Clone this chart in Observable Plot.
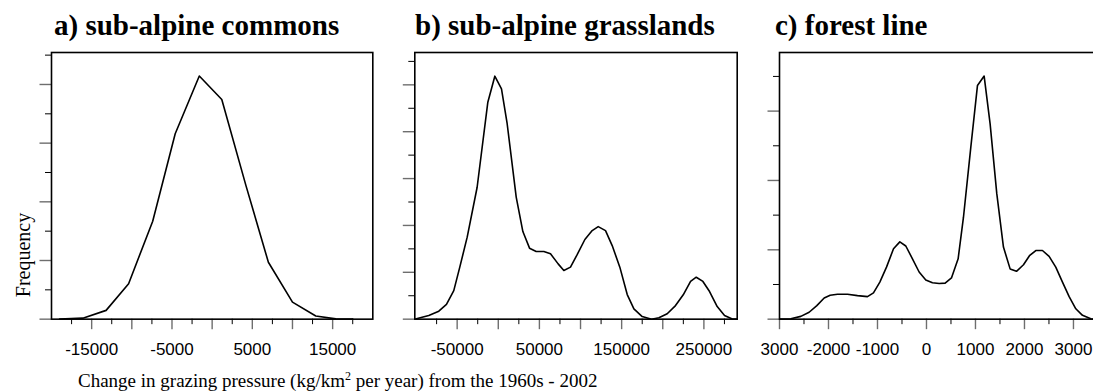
<!DOCTYPE html>
<html><head><meta charset="utf-8">
<script src="https://cdn.jsdelivr.net/npm/d3@7"></script>
<script src="https://cdn.jsdelivr.net/npm/@observablehq/plot@0.6"></script>
<style>
html,body{margin:0;padding:0;background:#fff;overflow:hidden}
#wrap{position:relative;width:1093px;height:392px;overflow:hidden;color:#000;background:#fff}
.panel{position:absolute;top:0}
.title{position:absolute;top:11px;font-family:"Liberation Serif","Times New Roman",serif;font-weight:bold;font-size:29px;line-height:29px;white-space:nowrap}
.xlab{position:absolute;left:78px;top:371px;font-family:"Liberation Serif","Times New Roman",serif;font-size:19px;line-height:19px;white-space:nowrap}
.xlab sup{font-size:12px;vertical-align:7px;line-height:0}
.ylab{position:absolute;left:23px;top:255px;font-family:"Liberation Serif","Times New Roman",serif;font-size:20px;line-height:20px;white-space:nowrap;transform:translate(-50%,-50%) rotate(-90deg)}
</style>
</head><body>
<div id="wrap"></div>
<script>
// ---- text ----
const panelTitles = ["a) sub-alpine commons", "b) sub-alpine grasslands", "c) forest line"];
const yTitle = "Frequency";
const xTitleHTML = "Change in grazing pressure (kg/km<sup>2</sup> per year) from the 1960s - 2002";

// ---- a) sub-alpine commons (density curve, arbitrary frequency units) ----
const commonsX = [-19000, -16100, -13200, -10400, -7400, -4600, -1600, 1200, 4200, 7000, 10000, 12900, 15400, 17500];
const commonsY = [0, 0.035, 0.30, 1.21, 3.34, 6.32, 8.29, 7.49, 4.56, 1.94, 0.58, 0.11, 0.01, 0];

// ---- b) sub-alpine grasslands ----
const grassX = [-100700, -84500, -72300, -63000, -54100, -46800, -37800, -25700, -12700, -4200, 3900, 10800, 21800, 29900, 38000, 46100, 55400, 63500, 72800, 79700, 87800, 95900, 105300, 114200, 121500, 130400, 138500, 147800, 156800, 164900, 175000, 186400, 195300, 205400, 215500, 224900, 233800, 240700, 248800, 256900, 266200, 275100, 284500, 290500];
const grassY = [0.01, 0.16, 0.34, 0.63, 1.22, 2.22, 3.50, 5.63, 9.26, 10.37, 9.83, 8.34, 5.21, 3.74, 3.03, 2.89, 2.89, 2.79, 2.36, 2.08, 2.22, 2.75, 3.40, 3.78, 3.95, 3.78, 3.14, 2.22, 1.05, 0.44, 0.11, 0, 0.06, 0.23, 0.58, 1.04, 1.61, 1.79, 1.61, 1.18, 0.54, 0.16, 0.01, 0];

// ---- c) forest line ----
const forestX = [-2993, -2769, -2565, -2395, -2238, -2088, -1966, -1816, -1612, -1408, -1204, -1082, -952, -816, -673, -544, -422, -286, -150, -14, 122, 259, 381, 510, 646, 755, 905, 1041, 1177, 1299, 1435, 1571, 1707, 1837, 1980, 2102, 2231, 2367, 2503, 2639, 2776, 2912, 3048, 3184, 3354, 3415];
const forestY = [0, 0.01, 0.08, 0.20, 0.39, 0.61, 0.69, 0.72, 0.72, 0.68, 0.65, 0.76, 1.07, 1.50, 2.03, 2.23, 2.11, 1.74, 1.36, 1.13, 1.05, 1.03, 1.04, 1.19, 1.74, 2.94, 4.96, 6.74, 7.01, 5.63, 3.62, 2.08, 1.45, 1.38, 1.57, 1.83, 1.98, 1.98, 1.81, 1.50, 1.07, 0.65, 0.30, 0.11, 0.01, 0];

// ---- ticks ----
const labelTicksA = [-15000, -5000, 5000, 15000];
const majorTicksA = [-15000, -10000, -5000, 0, 5000, 10000, 15000];
const minorTicksA = [-17500, -12500, -7500, -2500, 2500, 7500, 12500, 17500];
const labelTicksB = [-50000, 50000, 150000, 250000];
const majorTicksB = [-50000, 0, 50000, 100000, 150000, 200000, 250000];
const minorTicksB = [-75000, -25000, 25000, 75000, 125000, 175000, 225000, 275000];
const labelTicksC = [-3000, -2000, -1000, 0, 1000, 2000, 3000];
const labelTextC = ["3000", "-2000", "-1000", "0", "1000", "2000", "3000"];
const majorTicksC = [-3000, -2000, -1000, 0, 1000, 2000, 3000];
const minorTicksC = [-2500, -1500, -500, 500, 1500, 2500, 3500];
const yMajorA = [0, 2, 4, 6, 8], yMinorA = [1, 3, 5, 7, 9];
const yMajorB = [0, 2, 4, 6, 8, 10], yMinorB = [1, 3, 5, 7, 9, 11];
const yMajorC = [0, 2, 4, 6], yMinorC = [1, 3, 5, 7];

const panels = [
  {title: panelTitles[0], xs: commonsX, ys: commonsY, left: 0, width: 380, ml: 51, mr: 7.7, titleLeft: 54,
   xdom: [-20000, 20000], ydom: [0, 9.09], labels: labelTicksA, fmt: d => String(d), major: majorTicksA, minor: minorTicksA, yMaj: yMajorA, yMin: yMinorA},
  {title: panelTitles[1], xs: grassX, ys: grassY, left: 380, width: 370, ml: 34.3, mr: 13.3, titleLeft: 415,
   xdom: [-101500, 290500], ydom: [0, 11.38], labels: labelTicksB, fmt: d => String(d), major: majorTicksB, minor: minorTicksB, yMaj: yMajorB, yMin: yMinorB},
  {title: panelTitles[2], xs: forestX, ys: forestY, left: 750, width: 350, ml: 29, mr: 4.5, titleLeft: 775,
   xdom: [-3000, 3460], ydom: [0, 7.69], labels: labelTicksC, fmt: d => labelTextC[labelTicksC.indexOf(d)], major: majorTicksC, minor: minorTicksC, yMaj: yMajorC, yMin: yMinorC}
];

const wrap = document.getElementById("wrap");
const H = 392, MT = 52, MB = 73.33;
const tickFont = "'Liberation Sans', Arial, sans-serif";
const majColor = "#6e6e6e";

for (const p of panels) {
  const data = p.xs.map((x, i) => ({x, y: p.ys[i]}));
  const chart = Plot.plot({
    width: p.width, height: H,
    marginLeft: p.ml, marginRight: p.mr, marginTop: MT, marginBottom: MB,
    x: {domain: p.xdom},
    y: {domain: p.ydom},
    style: {background: "transparent", color: "#000", overflow: "visible"},
    marks: [
      Plot.axisX({ticks: p.minor, tickSize: 5.5, tickFormat: () => "", label: null, stroke: "#000"}),
      Plot.axisX({ticks: p.major, tickSize: 10.5, tickFormat: () => "", label: null, stroke: majColor, strokeWidth: 1.4}),
      Plot.axisX({ticks: p.labels, tickSize: 0, tickPadding: 23.3, tickFormat: p.fmt, label: null,
                  fontSize: 17, fontFamily: tickFont, fill: "#000"}),
      Plot.axisY({ticks: p.yMin, tickSize: 6, tickFormat: () => "", label: null, stroke: "#000"}),
      Plot.axisY({ticks: p.yMaj, tickSize: 11.5, tickFormat: () => "", label: null, stroke: majColor, strokeWidth: 1.4}),
      Plot.line(data, {x: "x", y: "y", stroke: "#000", strokeWidth: 1.6}),
      Plot.frame({stroke: "#000", strokeWidth: 1.6})
    ]
  });
  chart.classList.add("panel");
  chart.style.left = p.left + "px";
  wrap.appendChild(chart);
  const t = document.createElement("div");
  t.className = "title";
  t.style.left = p.titleLeft + "px";
  t.textContent = p.title;
  wrap.appendChild(t);
}

const xl = document.createElement("div");
xl.className = "xlab";
xl.innerHTML = xTitleHTML;
wrap.appendChild(xl);
const yl = document.createElement("div");
yl.className = "ylab";
yl.textContent = yTitle;
wrap.appendChild(yl);
</script>
</body></html>
